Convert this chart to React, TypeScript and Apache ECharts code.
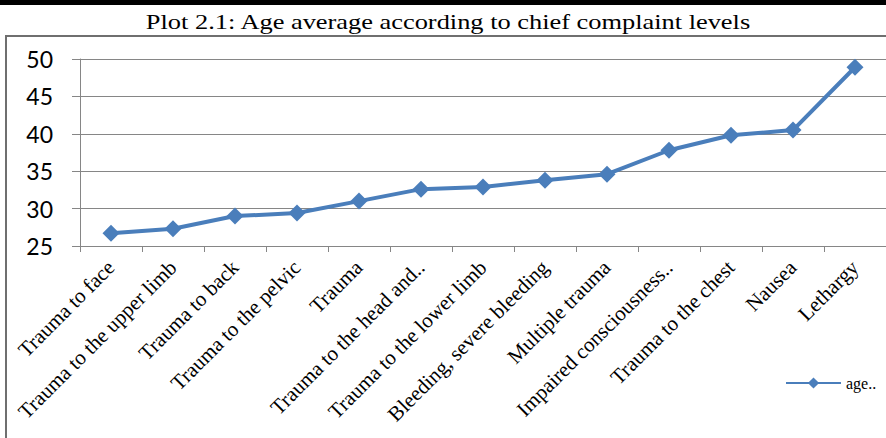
import React, { useEffect, useRef } from "react";
import * as echarts from "echarts";

const categories = [
  "Trauma to face",
  "Trauma to the upper limb",
  "Trauma to back",
  "Trauma to the pelvic",
  "Trauma",
  "Trauma to the head and..",
  "Trauma to the lower limb",
  "Bleeding, severe bleeding",
  "Multiple trauma",
  "Impaired consciousness..",
  "Trauma to the chest",
  "Nausea",
  "Lethargy",
];
const ageValues = [26.7, 27.3, 29.0, 29.4, 31.0, 32.6, 32.9, 33.8, 34.6, 37.8, 39.8, 40.5, 48.9];
const seriesName = "age..";
const titleText = "Plot 2.1: Age average according to chief complaint levels";

export default function App() {
  const ref = useRef<HTMLDivElement>(null);
  useEffect(() => {
    const chart = echarts.init(ref.current!, null, { renderer: "svg" });
    chart.setOption({
      animation: false,
      backgroundColor: "#ffffff",
      graphic: [
        { type: "rect", shape: { x: 0, y: 0, width: 886, height: 5 }, style: { fill: "#000" } },
        {
          type: "rect",
          shape: { x: 6, y: 36, width: 890, height: 410 },
          style: { fill: "none", stroke: "#6f6f6f", lineWidth: 2 },
        },
        {
          type: "text",
          x: 448,
          y: 21,
          scaleX: 1.2,
          style: {
            text: titleText,
            fontFamily: "Liberation Serif",
            fontSize: 22,
            fill: "#000",
            align: "center",
            verticalAlign: "middle",
          },
        },
      ],
      legend: {
        left: 780,
        top: 370,
        itemWidth: 55,
        itemHeight: 14,
        itemGap: 2,
        textStyle: { fontFamily: "Liberation Serif", fontSize: 16, color: "#000" },
        data: [seriesName],
      },
      grid: { left: 80, right: -5, top: 59, bottom: 192, containLabel: false },
      xAxis: {
        type: "category",
        data: categories,
        boundaryGap: true,
        axisLine: { lineStyle: { color: "#868686", width: 1 } },
        axisTick: { show: true, length: 6, lineStyle: { color: "#868686" } },
        axisLabel: {
          rotate: 45,
          interval: 0,
          margin: 18,
          fontFamily: "Liberation Serif",
          fontSize: 21,
          color: "#000",
        },
      },
      yAxis: {
        type: "value",
        min: 25,
        max: 50,
        interval: 5,
        axisLine: { show: true, lineStyle: { color: "#868686", width: 1 } },
        axisTick: { show: true, length: 8, lineStyle: { color: "#868686" } },
        splitLine: { lineStyle: { color: "#868686", width: 1 } },
        axisLabel: { fontFamily: "Lato", fontSize: 23, color: "#000", margin: 27 },
      },
      series: [
        {
          name: seriesName,
          type: "line",
          data: ageValues,
          symbol: "diamond",
          symbolSize: 17,
          lineStyle: { color: "#4A7EBB", width: 4 },
          itemStyle: { color: "#4A7EBB" },
        },
      ],
    });
    return () => chart.dispose();
  }, []);
  return (
    <div
      ref={ref}
      style={{ position: "fixed", left: 0, top: 0, width: 886, height: 438 }}
    />
  );
}
